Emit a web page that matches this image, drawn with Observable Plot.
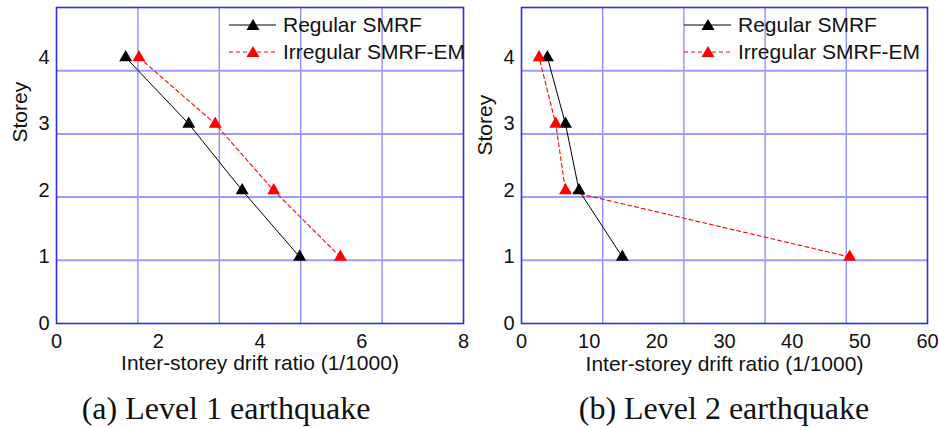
<!DOCTYPE html>
<html>
<head>
<meta charset="utf-8">
<script src="https://cdn.jsdelivr.net/npm/d3@7"></script>
<script src="https://cdn.jsdelivr.net/npm/@observablehq/plot@0.6"></script>
<style>
  body { margin: 0; background: #fff; width: 939px; height: 428px; position: relative; overflow: hidden; font-family: "Liberation Sans", Arial, sans-serif; }
  .panel { position: absolute; top: 0; }
  .caption { position: absolute; font-family: "Liberation Serif", "Times New Roman", serif; font-size: 32px; color: #111; transform: translate(-50%, -50%); white-space: nowrap; }
  .legend { position: absolute; font-size: 21px; color: #111; }
  .legend .row { display: flex; align-items: center; height: 26.4px; }
  .legend svg { margin-right: 7px; }
</style>
</head>
<body>
<div id="a" class="panel" style="left:0px"></div>
<div id="b" class="panel" style="left:465px"></div>
<div class="caption" style="left:226px; top:408px">(a) Level 1 earthquake</div>
<div class="caption" style="left:724px; top:408px">(b) Level 2 earthquake</div>
<div id="legA" class="legend" style="left:229px; top:12px"></div>
<div id="legB" class="legend" style="left:684px; top:12px"></div>
<script>
const storeys = [1, 2, 3, 4];
const seriesNames = ["Regular SMRF", "Irregular SMRF-EM"];
const level1Regular = [4.78, 3.65, 2.6, 1.36];
const level1Irregular = [5.58, 4.27, 3.12, 1.62];
const level2Regular = [14.9, 8.5, 6.5, 3.83];
const level2Irregular = [48.5, 6.5, 5.06, 2.6];
const xTicksA = [0, 2, 4, 6, 8];
const xGridA = [1.6, 3.2, 4.8, 6.4];
const xTicksB = [0, 10, 20, 30, 40, 50, 60];
const xGridB = [12, 24, 36, 48];
const yTicks = [0, 1, 2, 3, 4];
const yGrid = [0.95, 1.9, 2.85, 3.8];
const xLabel = "Inter-storey drift ratio (1/1000)";
const yLabel = "Storey";

function panel(xDomain, xTicks, xGrid, reg, irr, width, marginRight, yLabelDy, xLabelDy) {
  const regData = storeys.map((s, i) => ({x: reg[i], y: s}));
  const irrData = storeys.map((s, i) => ({x: irr[i], y: s}));
  return Plot.plot({
    width, height: 385,
    marginLeft: 56, marginRight, marginTop: 7, marginBottom: 62,
    style: {background: "transparent", overflow: "visible", fontFamily: "'Liberation Sans', Arial, sans-serif", fontSize: "20px", color: "#111"},
    x: {domain: xDomain},
    y: {domain: [0, 4.75]},
    marks: [
      Plot.ruleX(xGrid, {stroke: "#8888ff", strokeWidth: 1.3}),
      Plot.ruleY(yGrid, {stroke: "#9c9cff", strokeWidth: 2}),
      Plot.axisX({ticks: xTicks, tickSize: 0, tickPadding: 10, tickFormat: d3.format("d"), label: null, fontSize: 20}),
      Plot.axisY({ticks: yTicks, tickSize: 0, tickPadding: 7, tickFormat: d3.format("d"), label: null, fontSize: 20}),
      Plot.text([xLabel], {frameAnchor: "bottom", dy: xLabelDy, fontSize: 21, text: d => d}),
      Plot.text([yLabel], {frameAnchor: "left", dx: -36, dy: yLabelDy, rotate: -90, fontSize: 21, text: d => d}),
      Plot.frame({stroke: "#2d2de6", strokeWidth: 1.6}),
      Plot.line(regData, {x: "x", y: "y", stroke: "black", strokeWidth: 1}),
      Plot.line(irrData, {x: "x", y: "y", stroke: "red", strokeWidth: 1.1, strokeDasharray: "4,3"}),
      Plot.dot(regData, {x: "x", y: "y", symbol: "triangle", fill: "black", r: 4.8}),
      Plot.dot(irrData, {x: "x", y: "y", symbol: "triangle", fill: "red", r: 4.8})
    ]
  });
}

document.getElementById("a").append(panel([0, 8], xTicksA, xGridA, level1Regular, level1Irregular, 470, 7, -23, 46));
document.getElementById("b").append(panel([0, 60], xTicksB, xGridB, level2Regular, level2Irregular, 474, 12, -10, 47));

function legend(el) {
  const styles = [{stroke: "black", fill: "black", dash: ""}, {stroke: "red", fill: "red", dash: "4,3"}];
  seriesNames.forEach((name, i) => {
    const s = styles[i];
    const row = document.createElement("div");
    row.className = "row";
    row.innerHTML = `<svg width="47" height="14" viewBox="0 0 47 14"><line x1="0" x2="47" y1="7" y2="7" stroke="${s.stroke}" stroke-width="1.1" ${s.dash ? `stroke-dasharray="${s.dash}"` : ""}/><path d="M24,1 L30.5,12 L17.5,12 Z" fill="${s.fill}"/></svg><span>${name}</span>`;
    el.append(row);
  });
}
legend(document.getElementById("legA"));
legend(document.getElementById("legB"));
</script>
</body>
</html>
